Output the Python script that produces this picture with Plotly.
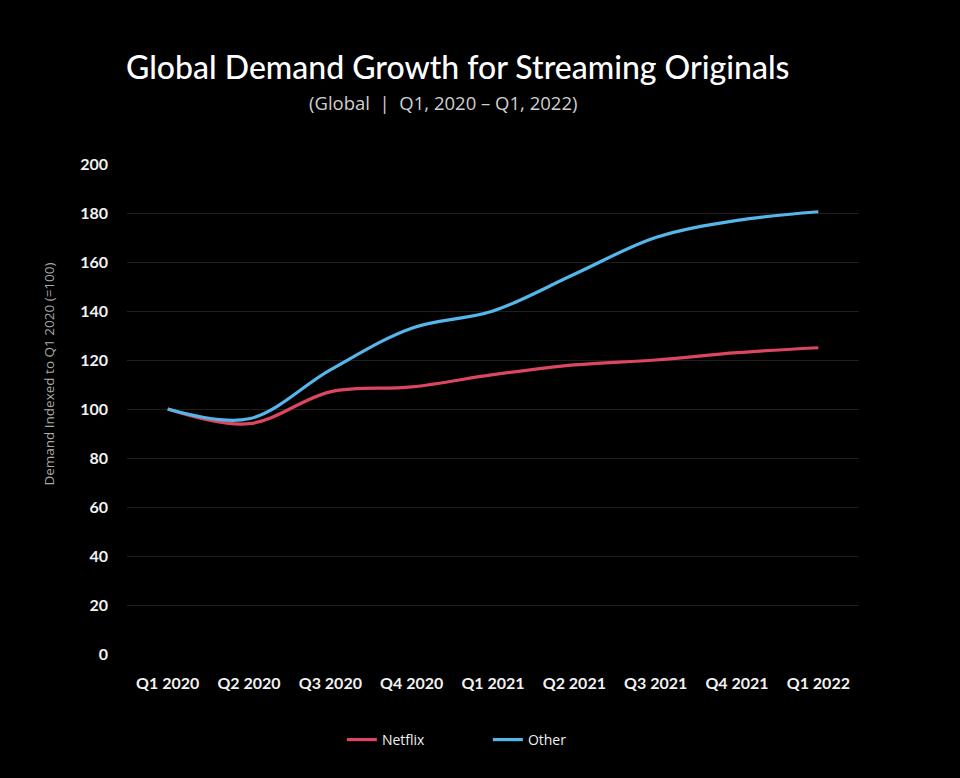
import plotly.graph_objects as go

quarters = ["Q1 2020", "Q2 2020", "Q3 2020", "Q4 2020", "Q1 2021",
            "Q2 2021", "Q3 2021", "Q4 2021", "Q1 2022"]
netflix = [100, 94, 107, 109, 114, 118, 120, 123, 125]
other = [100, 96, 116, 133, 140, 155, 170, 177, 180.5]
y_ticks = [0, 20, 40, 60, 80, 100, 120, 140, 160, 180, 200]

RED = "#dc4660"
BLUE = "#55b6ea"
TICKFONT = dict(family="Lato, sans-serif", size=16, color="#f2f2f2", weight="bold")

fig = go.Figure()
fig.add_trace(go.Scatter(x=quarters, y=netflix, name="Netflix", mode="lines",
                         line=dict(color=RED, width=3.2, shape="spline", smoothing=1.0)))
fig.add_trace(go.Scatter(x=quarters, y=other, name="Other", mode="lines",
                         line=dict(color=BLUE, width=3.2, shape="spline", smoothing=1.0)))

fig.update_layout(
    width=960, height=778,
    paper_bgcolor="#000000", plot_bgcolor="#000000",
    margin=dict(l=127, r=101, t=164, b=124),
    showlegend=True,
    legend=dict(orientation="h", x=0.493, xanchor="center", y=-0.1755, yanchor="middle",
                font=dict(family="Open Sans, Lato, sans-serif", size=14, color="#f0f0f0"),
                entrywidth=101, entrywidthmode="pixels", itemwidth=30,
                bgcolor="rgba(0,0,0,0)"),
    xaxis=dict(type="category", range=[-0.5, 8.5], showgrid=False, zeroline=False,
               showline=False, ticks="", tickfont=TICKFONT, ticklabelstandoff=18,
               fixedrange=True),
    yaxis=dict(range=[0, 200], tickvals=y_ticks, showgrid=True, gridcolor="#1f1f1f",
               gridwidth=1, zeroline=False, showline=False, ticks="",
               tickfont=TICKFONT, ticklabelstandoff=18, fixedrange=True),
    annotations=[
        dict(text="Global Demand Growth for Streaming Originals", xref="paper", yref="paper",
             x=0.452, y=1.2, xanchor="center", yanchor="middle", showarrow=False,
             font=dict(family="Lato, Inter, sans-serif", size=32, color="#ffffff", weight=500)),
        dict(text="(Global  |  Q1, 2020 \u2013 Q1, 2022)", xref="paper", yref="paper",
             x=0.4316, y=1.1245, xanchor="center", yanchor="middle", showarrow=False,
             font=dict(family="Open Sans, Lato, sans-serif", size=18.5, color="#cfcfcf")),
        dict(text="Demand Indexed to Q1 2020 (=100)", xref="paper", yref="paper",
             x=-0.106, y=0.571, xanchor="center", yanchor="middle", textangle=-90,
             showarrow=False,
             font=dict(family="Open Sans, Lato, sans-serif", size=13.5, color="#a8a8a8")),
    ],
)

fig.write_html("out.html", config={"displayModeBar": False},
               post_script="document.body.style.margin='0px';document.body.style.background='#000';")
